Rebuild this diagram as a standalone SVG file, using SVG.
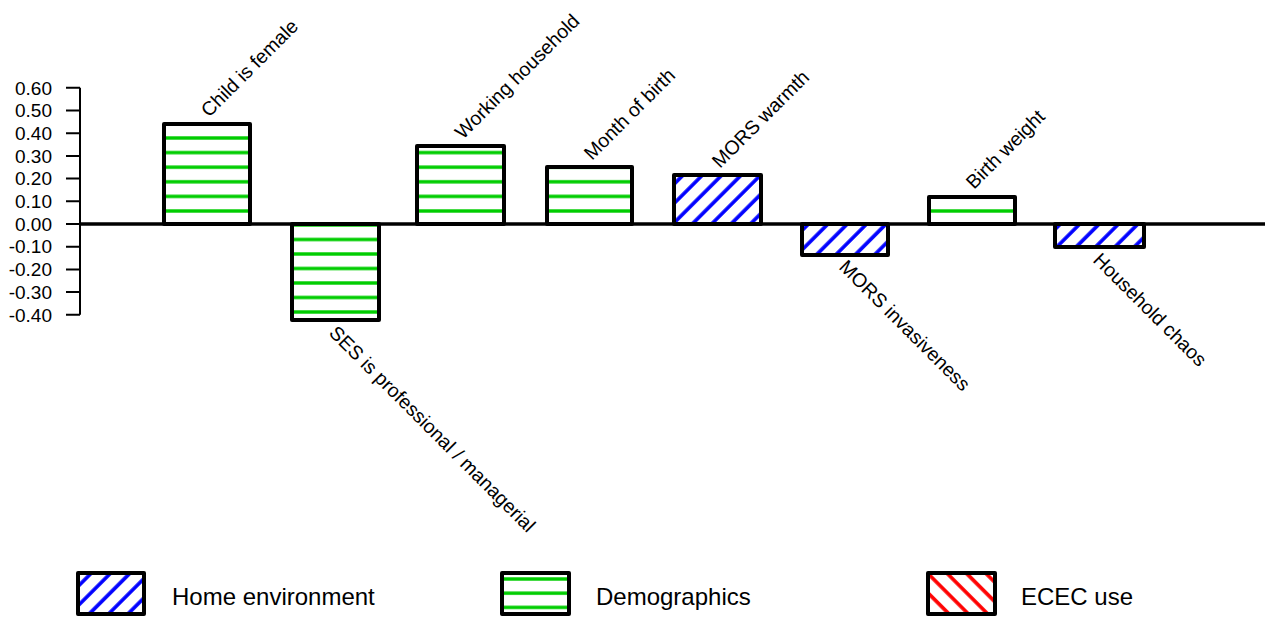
<svg xmlns="http://www.w3.org/2000/svg" width="1271" height="617" viewBox="0 0 1271 617">
<style>
  .bar { stroke: #000; stroke-width: 4; stroke-linejoin: round; }
  .ax { stroke: #000; stroke-width: 2; fill: none; }
  .tick { font-family: "Liberation Sans", Arial, sans-serif; font-size: 19px; fill: #000; text-anchor: end; }
  .lbl { font-family: "Liberation Sans", Arial, sans-serif; font-size: 19.5px; fill: #000; }
  .leg { font-family: "Liberation Sans", Arial, sans-serif; font-size: 24px; fill: #000; }
</style>
<defs>
  <pattern id="blueHatch" patternUnits="userSpaceOnUse" width="13.7" height="13.7" patternTransform="rotate(45)">
    <rect width="13.7" height="13.7" fill="#fff"/>
    <line x1="4" y1="-1" x2="4" y2="15" stroke="#0000ff" stroke-width="3.6"/>
  </pattern>
  <pattern id="redHatch" patternUnits="userSpaceOnUse" width="13.7" height="13.7" patternTransform="rotate(-45)">
    <rect width="13.7" height="13.7" fill="#fff"/>
    <line x1="4" y1="-1" x2="4" y2="15" stroke="#ff0000" stroke-width="3.6"/>
  </pattern>
  <pattern id="greenPos" patternUnits="userSpaceOnUse" width="20" height="14.6" patternTransform="translate(0,211)">
    <rect width="20" height="14.6" fill="#fff"/>
    <line x1="-1" y1="0" x2="21" y2="0" stroke="#00cd00" stroke-width="3.4"/>
    <line x1="-1" y1="14.6" x2="21" y2="14.6" stroke="#00cd00" stroke-width="3.4"/>
  </pattern>
  <pattern id="greenNeg" patternUnits="userSpaceOnUse" width="20" height="14.5" patternTransform="translate(0,239.5)">
    <rect width="20" height="14.5" fill="#fff"/>
    <line x1="-1" y1="0" x2="21" y2="0" stroke="#00cd00" stroke-width="3.4"/>
    <line x1="-1" y1="14.5" x2="21" y2="14.5" stroke="#00cd00" stroke-width="3.4"/>
  </pattern>
  <pattern id="greenLeg" patternUnits="userSpaceOnUse" width="20" height="14.2" patternTransform="translate(0,579)">
    <rect width="20" height="14.2" fill="#fff"/>
    <line x1="-1" y1="0" x2="21" y2="0" stroke="#00cd00" stroke-width="3.4"/>
    <line x1="-1" y1="14.2" x2="21" y2="14.2" stroke="#00cd00" stroke-width="3.4"/>
  </pattern>
</defs>
<rect width="1271" height="617" fill="#fff"/>

<g id="axis">
  <line class="ax" x1="80" y1="87.8" x2="80" y2="314.8"/>
  <path class="ax" d="M66 87.8H80M66 110.5H80M66 133.2H80M66 155.9H80M66 178.6H80M66 201.3H80M66 224H80M66 246.7H80M66 269.4H80M66 292.1H80M66 314.8H80"/>
  <text class="tick" x="52" y="94.5">0.60</text>
  <text class="tick" x="52" y="117.2">0.50</text>
  <text class="tick" x="52" y="139.9">0.40</text>
  <text class="tick" x="52" y="162.6">0.30</text>
  <text class="tick" x="52" y="185.3">0.20</text>
  <text class="tick" x="52" y="208">0.10</text>
  <text class="tick" x="52" y="230.7">0.00</text>
  <text class="tick" x="52" y="253.4">-0.10</text>
  <text class="tick" x="52" y="276.1">-0.20</text>
  <text class="tick" x="52" y="298.8">-0.30</text>
  <text class="tick" x="52" y="321.5">-0.40</text>
</g>

<g id="bar-child-female">
  <rect class="bar" x="164" y="124" width="86" height="100" fill="url(#greenPos)"/>
  <text class="lbl" transform="translate(209,118) rotate(-45)">Child is female</text>
</g>
<g id="bar-ses">
  <rect class="bar" x="292" y="224" width="87" height="96" fill="url(#greenNeg)"/>
  <text class="lbl" transform="translate(328,334) rotate(45)">SES is professional / managerial</text>
</g>
<g id="bar-working">
  <rect class="bar" x="417" y="146" width="87" height="78" fill="url(#greenPos)"/>
  <text class="lbl" transform="translate(463,140) rotate(-45)">Working household</text>
</g>
<g id="bar-month">
  <rect class="bar" x="547" y="167" width="85" height="57" fill="url(#greenPos)"/>
  <text class="lbl" transform="translate(592,161) rotate(-45)">Month of birth</text>
</g>
<g id="bar-mors-warmth">
  <rect class="bar" x="674" y="175" width="87" height="49" fill="url(#blueHatch)"/>
  <text class="lbl" transform="translate(720,169) rotate(-45)">MORS warmth</text>
</g>
<g id="bar-mors-invasiveness">
  <rect class="bar" x="802" y="224" width="86" height="31" fill="url(#blueHatch)"/>
  <text class="lbl" transform="translate(838,268) rotate(45)">MORS invasiveness</text>
</g>
<g id="bar-birth-weight">
  <rect class="bar" x="929" y="197" width="86" height="27" fill="url(#greenPos)"/>
  <text class="lbl" transform="translate(974,190) rotate(-45)">Birth weight</text>
</g>
<g id="bar-household-chaos">
  <rect class="bar" x="1055" y="224" width="89" height="23" fill="url(#blueHatch)"/>
  <text class="lbl" transform="translate(1092,261) rotate(45)">Household chaos</text>
</g>

<g id="connectors">
  <line x1="80" y1="224" x2="1265" y2="224" stroke="#000" stroke-width="3.5"/>
</g>

<g id="legend-home">
  <rect class="bar" x="78" y="573" width="66" height="41" fill="url(#blueHatch)"/>
  <text class="leg" x="172" y="605">Home environment</text>
</g>
<g id="legend-demographics">
  <rect class="bar" x="502" y="573" width="67" height="41" fill="url(#greenLeg)"/>
  <text class="leg" x="596" y="605">Demographics</text>
</g>
<g id="legend-ecec">
  <rect class="bar" x="928" y="573" width="67" height="41" fill="url(#redHatch)"/>
  <text class="leg" x="1021" y="605">ECEC use</text>
</g>
</svg>
